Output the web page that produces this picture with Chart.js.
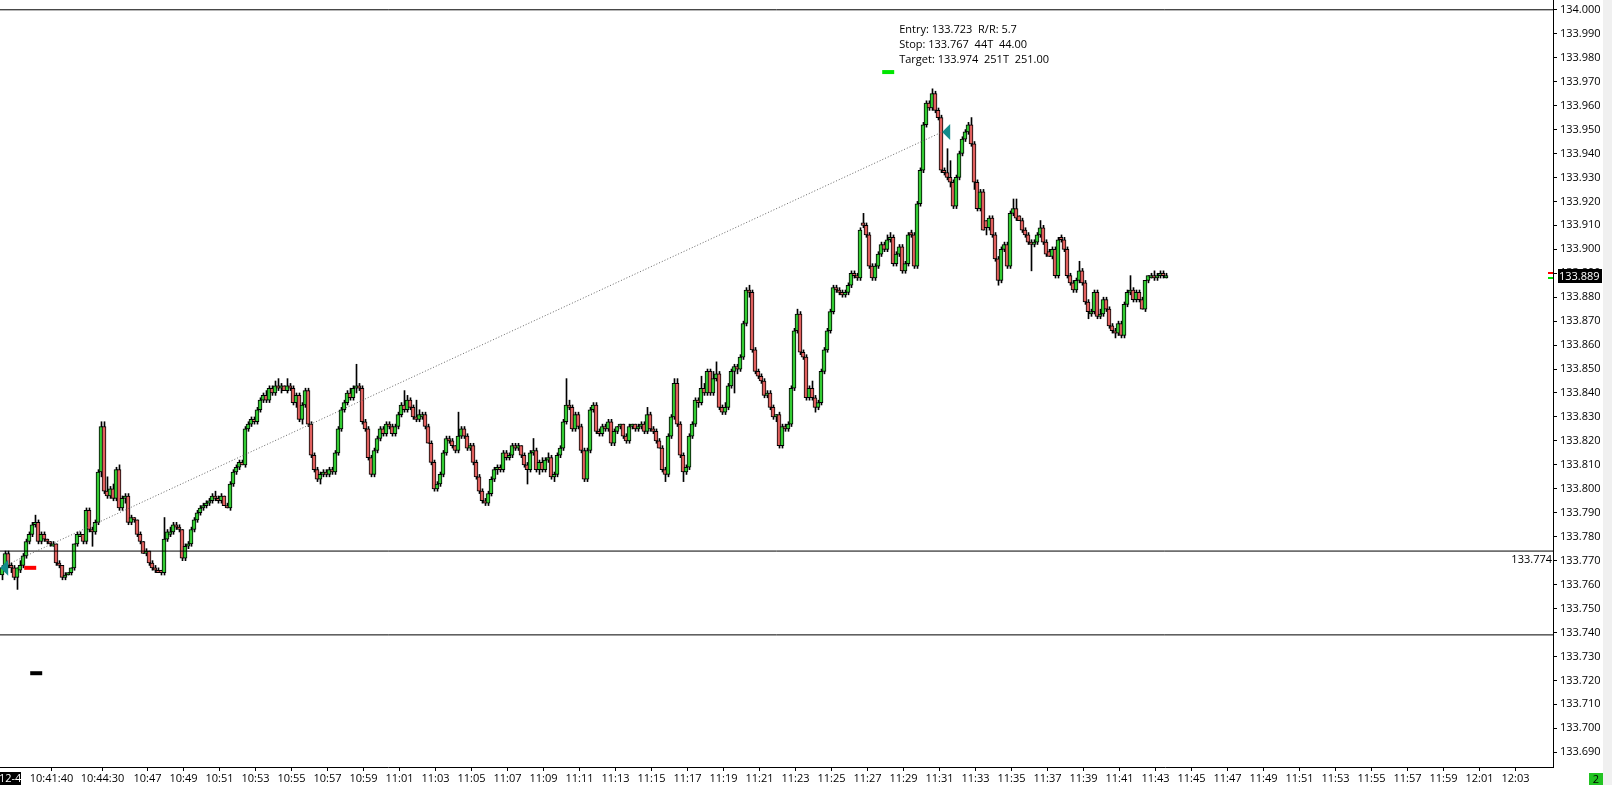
<!DOCTYPE html>
<html><head><meta charset="utf-8">
<script src="https://cdn.jsdelivr.net/npm/chart.js@4.4.1/dist/chart.umd.min.js"></script>
<style>html,body{margin:0;padding:0;background:#fff;overflow:hidden}canvas{display:block}</style>
</head><body>
<canvas id="c" width="1612" height="785"></canvas>
<script>
// 10-second bars starting 10:38:55
const BAR_START = '10:38:55';
const BAR_SECONDS = 10;

const opens = [
133.764,133.768,133.773,133.768,133.767,133.763,133.766,133.768,133.772,133.778,
133.781,133.785,133.786,133.778,133.781,133.779,133.778,133.776,133.777,133.769,
133.768,133.763,133.764,133.765,133.767,133.777,133.780,133.781,133.778,133.791,
133.783,133.782,133.786,133.807,133.826,133.799,133.797,133.800,133.796,133.808,
133.792,133.796,133.797,133.786,133.788,133.787,133.781,133.778,133.773,133.774,
133.769,133.767,133.766,133.766,133.765,133.779,133.781,133.782,133.785,133.784,
133.783,133.771,133.776,133.777,133.783,133.787,133.790,133.792,133.793,133.794,
133.795,133.797,133.796,133.795,133.797,133.793,133.792,133.802,133.807,133.809,
133.811,133.810,133.825,133.827,133.829,133.828,133.833,133.837,133.839,133.837,
133.842,133.840,133.843,133.842,133.843,133.841,133.843,133.842,133.836,133.839,
133.829,133.835,133.841,133.827,133.814,133.808,133.804,133.806,133.807,133.806,
133.808,133.807,133.815,133.825,133.833,133.836,133.840,133.838,133.842,133.843,
133.842,133.828,133.825,133.813,133.806,133.816,133.821,133.825,133.823,133.827,
133.826,133.823,133.826,133.831,133.835,133.833,133.837,133.834,133.830,133.829,
133.830,133.831,133.826,133.819,133.811,133.800,133.802,133.806,133.815,133.821,
133.820,133.818,133.816,133.822,133.825,133.822,133.817,133.818,133.811,133.805,
133.799,133.795,133.794,133.798,133.804,133.808,133.809,133.808,133.815,133.813,
133.814,133.818,133.817,133.818,133.814,133.810,133.808,133.815,133.816,133.808,
133.811,133.808,133.812,133.813,133.805,133.806,133.814,133.817,133.828,133.835,
133.834,133.825,133.831,133.826,133.816,133.804,133.816,133.833,133.835,133.824,
133.823,133.826,133.825,133.828,133.819,133.824,133.826,133.827,133.822,133.820,
133.826,133.827,133.825,133.826,133.827,133.824,133.831,133.825,133.824,133.820,
133.817,133.808,133.806,133.822,133.830,133.844,133.827,133.814,133.807,133.809,
133.822,133.827,133.837,133.836,133.842,133.840,133.849,133.840,133.846,133.848,
133.834,133.832,133.834,133.843,133.849,133.851,133.850,133.855,133.869,133.883,
133.882,133.858,133.849,133.847,133.845,133.839,133.840,133.834,133.830,133.831,
133.818,133.826,133.825,133.827,133.842,133.866,133.873,133.857,133.855,133.838,
133.842,133.838,133.834,133.836,133.849,133.858,133.866,133.874,133.884,133.883,
133.882,133.881,133.882,133.885,133.890,133.889,133.888,133.911,133.910,133.906,
133.893,133.888,133.893,133.898,133.902,133.900,133.904,133.905,133.894,133.898,
133.901,133.891,133.894,133.907,133.906,133.893,133.919,133.933,133.952,133.961,
133.959,133.965,133.958,133.955,133.933,133.932,133.930,133.928,133.918,133.930,
133.940,133.946,133.949,133.952,133.944,133.928,133.917,133.924,133.912,133.909,
133.913,133.906,133.896,133.887,133.900,133.902,133.893,133.915,133.917,133.914,
133.912,133.908,133.906,133.903,133.902,133.903,133.906,133.909,133.903,133.899,
133.897,133.900,133.889,133.905,133.904,133.900,133.889,133.886,133.883,133.887,
133.891,133.886,133.878,133.873,133.874,133.882,133.872,133.873,133.879,133.875,
133.868,133.866,133.865,133.869,133.864,133.877,133.882,133.883,133.879,133.882,
133.879,133.875,133.887,133.888,133.889,133.888,133.889,133.890,133.888
];
const highs = [
133.768,133.774,133.774,133.769,133.768,133.767,133.770,133.773,133.779,133.782,
133.786,133.789,133.787,133.782,133.782,133.779,133.778,133.778,133.777,133.770,
133.768,133.765,133.765,133.767,133.777,133.782,133.782,133.781,133.792,133.792,
133.784,133.787,133.808,133.828,133.828,133.805,133.801,133.802,133.809,133.810,
133.797,133.798,133.798,133.789,133.788,133.787,133.782,133.778,133.775,133.774,
133.770,133.768,133.767,133.766,133.788,133.783,133.784,133.786,133.786,133.785,
133.783,133.777,133.778,133.784,133.788,133.791,133.793,133.794,133.795,133.796,
133.798,133.799,133.797,133.798,133.797,133.794,133.803,133.808,133.810,133.812,
133.812,133.826,133.828,133.830,133.830,133.834,133.838,133.840,133.841,133.843,
133.843,133.845,133.846,133.844,133.843,133.846,133.844,133.843,133.840,133.840,
133.836,133.842,133.842,133.828,133.815,133.809,133.807,133.808,133.808,133.809,
133.809,133.816,133.826,133.834,133.837,133.841,133.842,133.843,133.852,133.844,
133.843,133.829,133.826,133.814,133.817,133.822,133.826,133.826,133.828,133.828,
133.827,133.827,133.832,133.836,133.841,133.839,133.838,133.835,133.837,133.833,
133.832,133.832,133.827,133.820,133.812,133.803,133.807,133.816,133.822,133.822,
133.821,133.818,133.832,133.826,133.826,133.823,133.819,133.819,133.812,133.806,
133.800,133.796,133.799,133.805,133.809,133.810,133.810,133.816,133.816,133.815,
133.819,133.819,133.819,133.818,133.815,133.811,133.816,133.821,133.817,133.812,
133.813,133.813,133.815,133.814,133.807,133.815,133.818,133.829,133.846,133.837,
133.835,133.832,133.832,133.827,133.817,133.817,133.834,133.836,133.836,133.825,
133.827,133.827,133.829,133.829,133.825,133.826,133.827,133.827,133.823,133.827,
133.827,133.827,133.827,133.828,133.828,133.834,133.832,133.826,133.825,133.821,
133.818,133.809,133.823,133.831,133.846,133.846,133.828,133.815,133.810,133.823,
133.828,133.838,133.838,133.847,133.844,133.850,133.850,133.849,133.853,133.849,
133.835,133.836,133.844,133.850,133.852,133.852,133.856,133.870,133.884,133.885,
133.883,133.859,133.850,133.848,133.846,133.841,133.841,133.835,133.831,133.832,
133.827,133.827,133.828,133.843,133.867,133.875,133.874,133.858,133.856,133.843,
133.845,133.839,133.837,133.850,133.859,133.867,133.875,133.885,133.885,133.884,
133.883,133.883,133.886,133.891,133.891,133.890,133.909,133.915,133.911,133.907,
133.894,133.894,133.899,133.903,133.903,133.906,133.907,133.906,133.899,133.902,
133.902,133.895,133.907,133.908,133.907,133.920,133.934,133.953,133.962,133.962,
133.967,133.966,133.959,133.956,133.934,133.942,133.937,133.929,133.931,133.941,
133.947,133.950,133.953,133.955,133.945,133.929,133.925,133.925,133.912,133.914,
133.914,133.907,133.897,133.901,133.903,133.903,133.916,133.921,133.921,133.914,
133.913,133.909,133.907,133.904,133.904,133.907,133.912,133.910,133.904,133.900,
133.901,133.901,133.905,133.906,133.905,133.901,133.890,133.887,133.888,133.895,
133.892,133.887,133.879,133.875,133.883,133.883,133.875,133.880,133.880,133.876,
133.869,133.867,133.870,133.870,133.878,133.883,133.889,133.884,133.883,133.883,
133.880,133.887,133.889,133.890,133.891,133.890,133.891,133.891,133.890
];
const lows = [
133.762,133.767,133.767,133.765,133.762,133.758,133.765,133.767,133.771,133.777,
133.780,133.784,133.777,133.777,133.778,133.777,133.776,133.776,133.768,133.767,
133.762,133.762,133.764,133.764,133.766,133.776,133.780,133.777,133.777,133.782,
133.776,133.781,133.785,133.805,133.798,133.796,133.796,133.795,133.795,133.791,
133.791,133.794,133.785,133.785,133.786,133.780,133.777,133.773,133.772,133.768,
133.766,133.765,133.765,133.764,133.764,133.778,133.780,133.781,133.783,133.782,
133.770,133.770,133.775,133.776,133.782,133.786,133.789,133.791,133.792,133.793,
133.794,133.795,133.794,133.794,133.793,133.792,133.791,133.801,133.806,133.808,
133.810,133.809,133.824,133.826,133.827,133.827,133.832,133.836,133.836,133.836,
133.839,133.839,133.841,133.840,133.841,133.840,133.841,133.835,133.834,133.828,
133.827,133.834,133.826,133.813,133.807,133.803,133.802,133.805,133.805,133.805,
133.806,133.806,133.814,133.824,133.832,133.835,133.837,133.837,133.840,133.841,
133.827,133.824,133.812,133.805,133.805,133.815,133.820,133.822,133.822,133.825,
133.822,133.822,133.825,133.830,133.832,133.832,133.833,133.829,133.828,133.828,
133.829,133.825,133.819,133.810,133.799,133.799,133.801,133.805,133.814,133.819,
133.817,133.815,133.815,133.821,133.821,133.816,133.816,133.810,133.804,133.798,
133.794,133.793,133.793,133.797,133.803,133.806,133.807,133.807,133.812,133.812,
133.813,133.816,133.816,133.813,133.809,133.802,133.807,133.814,133.807,133.806,
133.807,133.807,133.811,133.804,133.803,133.805,133.813,133.816,133.827,133.833,
133.824,133.824,133.825,133.815,133.803,133.803,133.815,133.832,133.823,133.822,
133.822,133.824,133.824,133.818,133.818,133.823,133.825,133.821,133.819,133.819,
133.825,133.824,133.824,133.825,133.823,133.823,133.824,133.823,133.819,133.817,
133.807,133.803,133.805,133.821,133.829,133.826,133.813,133.803,133.806,133.808,
133.821,133.826,133.834,133.835,133.839,133.839,133.839,133.839,133.845,133.833,
133.831,133.831,133.833,133.842,133.840,133.848,133.849,133.854,133.868,133.880,
133.857,133.848,133.846,133.844,133.838,133.838,133.833,133.829,133.828,133.817,
133.817,133.824,133.824,133.826,133.841,133.865,133.856,133.854,133.837,133.837,
133.837,133.832,133.833,133.835,133.848,133.857,133.865,133.873,133.882,133.881,
133.880,133.880,133.881,133.884,133.888,133.887,133.887,133.909,133.905,133.892,
133.887,133.887,133.892,133.897,133.899,133.899,133.903,133.893,133.893,133.897,
133.890,133.890,133.893,133.905,133.892,133.892,133.918,133.932,133.951,133.958,
133.958,133.957,133.954,133.932,133.931,133.929,133.926,133.917,133.917,133.929,
133.939,133.945,133.948,133.943,133.925,133.916,133.916,133.908,133.906,133.908,
133.905,133.895,133.885,133.886,133.899,133.892,133.892,133.914,133.912,133.912,
133.907,133.905,133.902,133.891,133.901,133.902,133.905,133.902,133.897,133.897,
133.896,133.888,133.888,133.903,133.899,133.888,133.885,133.882,133.882,133.886,
133.885,133.877,133.871,133.872,133.873,133.871,133.871,133.872,133.874,133.867,
133.865,133.863,133.864,133.863,133.863,133.876,133.881,133.878,133.878,133.878,
133.875,133.874,133.886,133.888,133.887,133.887,133.888,133.888,133.888
];
const closes = [
133.767,133.773,133.768,133.767,133.763,133.767,133.768,133.772,133.778,133.781,
133.785,133.786,133.778,133.781,133.779,133.778,133.777,133.777,133.769,133.768,
133.763,133.764,133.765,133.767,133.777,133.781,133.781,133.778,133.791,133.783,
133.782,133.786,133.807,133.826,133.799,133.797,133.800,133.796,133.808,133.792,
133.796,133.797,133.786,133.788,133.787,133.781,133.778,133.773,133.774,133.769,
133.767,133.766,133.765,133.765,133.779,133.782,133.782,133.785,133.784,133.783,
133.771,133.776,133.777,133.783,133.787,133.790,133.792,133.793,133.794,133.795,
133.797,133.796,133.795,133.797,133.793,133.792,133.802,133.807,133.809,133.811,
133.810,133.825,133.827,133.829,133.828,133.833,133.837,133.839,133.837,133.842,
133.840,133.843,133.842,133.843,133.841,133.843,133.842,133.836,133.839,133.829,
133.835,133.841,133.827,133.814,133.808,133.804,133.806,133.807,133.806,133.808,
133.807,133.815,133.825,133.833,133.836,133.840,133.838,133.842,133.843,133.842,
133.828,133.825,133.813,133.806,133.816,133.821,133.825,133.823,133.827,133.826,
133.823,133.826,133.831,133.835,133.833,133.837,133.834,133.830,133.829,133.831,
133.831,133.826,133.819,133.811,133.800,133.802,133.806,133.815,133.821,133.820,
133.818,133.816,133.822,133.825,133.822,133.817,133.818,133.811,133.805,133.799,
133.795,133.794,133.798,133.804,133.808,133.809,133.808,133.815,133.813,133.814,
133.818,133.817,133.818,133.814,133.810,133.808,133.815,133.816,133.808,133.811,
133.808,133.812,133.813,133.805,133.806,133.814,133.817,133.828,133.835,133.834,
133.825,133.831,133.826,133.816,133.804,133.816,133.833,133.835,133.824,133.823,
133.826,133.825,133.828,133.819,133.824,133.826,133.827,133.822,133.820,133.826,
133.827,133.825,133.826,133.827,133.824,133.831,133.825,133.824,133.820,133.817,
133.808,133.806,133.822,133.830,133.844,133.827,133.814,133.807,133.809,133.822,
133.827,133.837,133.836,133.842,133.840,133.849,133.840,133.846,133.848,133.834,
133.832,133.834,133.843,133.849,133.851,133.850,133.855,133.869,133.883,133.882,
133.858,133.849,133.847,133.845,133.839,133.840,133.834,133.830,133.831,133.818,
133.826,133.825,133.827,133.842,133.866,133.873,133.857,133.855,133.838,133.842,
133.838,133.834,133.836,133.849,133.858,133.866,133.874,133.884,133.883,133.882,
133.881,133.882,133.885,133.890,133.889,133.888,133.908,133.910,133.906,133.893,
133.888,133.893,133.898,133.902,133.900,133.904,133.905,133.894,133.898,133.901,
133.891,133.894,133.906,133.906,133.893,133.919,133.933,133.952,133.961,133.959,
133.965,133.958,133.955,133.933,133.932,133.930,133.928,133.918,133.930,133.940,
133.946,133.949,133.952,133.944,133.928,133.917,133.924,133.908,133.909,133.913,
133.906,133.896,133.887,133.900,133.902,133.893,133.915,133.917,133.913,133.912,
133.908,133.906,133.903,133.902,133.903,133.906,133.909,133.903,133.898,133.897,
133.900,133.889,133.904,133.904,133.900,133.889,133.886,133.883,133.887,133.891,
133.886,133.878,133.874,133.874,133.882,133.872,133.873,133.879,133.875,133.868,
133.866,133.865,133.869,133.864,133.877,133.882,133.883,133.879,133.882,133.879,
133.875,133.887,133.889,133.889,133.888,133.889,133.890,133.889,133.889
];

const yTickLabels = ['133.690','133.700','133.710','133.720','133.730','133.740','133.750','133.760','133.770','133.780',
'133.790','133.800','133.810','133.820','133.830','133.840','133.850','133.860','133.870','133.880','133.890',
'133.900','133.910','133.920','133.930','133.940','133.950','133.960','133.970','133.980','133.990','134.000'];
const xTickLabels = ['10:41:40','10:44:30','10:47','10:49','10:51','10:53','10:55','10:57','10:59','11:01','11:03',
'11:05','11:07','11:09','11:11','11:13','11:15','11:17','11:19','11:21','11:23','11:25','11:27','11:29','11:31',
'11:33','11:35','11:37','11:39','11:41','11:43','11:45','11:47','11:49','11:51','11:53','11:55','11:57','11:59','12:01','12:03'];
const dateLabel = '12-4';

const lastPrice = 133.889, askPrice = 133.890, bidPrice = 133.888;
const levelPrice = 133.774, lowerLinePrice = 133.739, topLinePrice = 134.000;
const entryPrice = 133.723, stopPrice = 133.767, targetPrice = 133.974;
const stopMarkTimes = ['10:40:09','10:40:49'];
const entryMarkTimes = ['10:40:29','10:41:09'];
const targetMarkTimes = ['11:27:49','11:28:29'];
const execTimes = ['10:38:49','11:31:09'];
const execPrices = [133.767, 133.949];
const infoLines = ['Entry: 133.723  R/R: 5.7','Stop: 133.767  44T  44.00','Target: 133.974  251T  251.00'];

function toSec(s){const p=s.split(':').map(Number);return p[0]*3600+p[1]*60+(p[2]||0);}
const X_MIN = toSec('10:38:48') + 1/3;   // visible window start
const X_MAX = toSec('12:05:05');         // visible window end
const Y_MIN = 133.683841, Y_MAX = 134.00409;

const n = Math.min(opens.length, highs.length, lows.length, closes.length);
const t0 = toSec(BAR_START);
const times = []; for (let i=0;i<n;i++) times.push(t0 + i*BAR_SECONDS);
const UP = '#33cc33', DOWN = '#e0605e';

const bodies = times.map((t,i)=>({x:t, y:[opens[i], closes[i]]}));
const wicks = times.map((t,i)=>({x:t, y:[lows[i], highs[i]]}));
const bodyColors = times.map((t,i)=> closes[i] >= opens[i] ? UP : DOWN);

function hline(price, color, width){
  return {type:'line', data:[{x:X_MIN,y:price},{x:X_MAX,y:price}], borderColor:color, borderWidth:width,
    pointRadius:0, order:0, fill:false};
}
function seg(tt, price, color, width){
  return {type:'line', data:[{x:toSec(tt[0]),y:price},{x:toSec(tt[1]),y:price}], borderColor:color, borderWidth:width,
    pointRadius:0, order:0, fill:false, borderCapStyle:'butt'};
}

const FONT = "'Open Sans','Noto Sans',sans-serif";
Chart.defaults.font.family = FONT;
Chart.defaults.font.size = 11;
Chart.defaults.color = '#000';

const decor = {
  id:'decor',
  beforeDraw(chart){
    const c = chart.ctx; c.save(); c.fillStyle='#fff'; c.fillRect(0,0,chart.width,chart.height); c.restore();
  },
  afterDraw(chart){
    const c = chart.ctx, xs = chart.scales.x, ys = chart.scales.y, ca = chart.chartArea;
    c.save();
    // execution triangles
    c.fillStyle = '#138b8b';
    execTimes.forEach((t,i)=>{
      const px = xs.getPixelForValue(toSec(t)), py = ys.getPixelForValue(execPrices[i]);
      c.beginPath(); c.moveTo(px, py); c.lineTo(px+8, py-8); c.lineTo(px+8, py+8); c.closePath(); c.fill();
    });
    // info text near target marker
    const tx = xs.getPixelForValue(toSec(targetMarkTimes[1])) + 5;
    const ty = ys.getPixelForValue(targetPrice);
    c.font = '11px ' + FONT; c.fillStyle = '#000'; c.textAlign='left'; c.textBaseline='alphabetic';
    infoLines.forEach((s,i)=> c.fillText(s, tx, ty - 39.5 + i*15.2));
    // level label
    const ly = ys.getPixelForValue(levelPrice);
    c.textAlign='right'; c.fillText(levelPrice.toFixed(3), ca.right-1, ly+12);
    // bid / ask marks at axis
    c.fillStyle = '#ff0000'; c.fillRect(ca.right-5, Math.round(ys.getPixelForValue(askPrice))-1, 5, 2);
    c.fillStyle = '#00dd00'; c.fillRect(ca.right-5, Math.round(ys.getPixelForValue(bidPrice))-1, 5, 2);
    // last price box
    const py = Math.round(ys.getPixelForValue(lastPrice));
    c.fillStyle = '#000'; c.fillRect(ca.right+5, py-7, 44, 14);
    c.fillStyle = '#fff'; c.textAlign='left'; c.textBaseline='middle';
    c.fillText(lastPrice.toFixed(3), ca.right+6, py+0.5);
    // date label
    c.fillStyle = '#000'; c.fillRect(0, ca.bottom+5, 21, 13);
    c.fillStyle = '#fff'; c.textAlign='left'; c.fillText(dateLabel, -1, ca.bottom+11.5);
    // right strip & status box
    c.fillStyle = '#f0f0f0'; c.fillRect(1603, 0, 9, chart.height);
    c.fillStyle = '#22c322'; c.fillRect(1589, chart.height-12, 14, 12);
    c.fillStyle = '#000'; c.textAlign='center'; c.fillText('2', 1596, chart.height-5.5);
    c.restore();
  }
};

new Chart(document.getElementById('c'), {
  type:'bar',
  data:{ datasets:[
    {type:'line', data:[{x:toSec(execTimes[0]),y:execPrices[0]},{x:toSec(execTimes[1]),y:execPrices[1]}],
      borderColor:'#666666', borderWidth:1, borderDash:[1,2], pointRadius:0, order:0, fill:false},
    hline(topLinePrice,'#000',1),
    hline(levelPrice,'#000',1),
    hline(lowerLinePrice,'#000',1),
    seg(stopMarkTimes, stopPrice, '#ff0000', 4),
    seg(entryMarkTimes, entryPrice, '#000000', 4),
    seg(targetMarkTimes, targetPrice, '#00e600', 4),
    {type:'bar', data:bodies, backgroundColor:bodyColors, borderColor:'#000', borderWidth:1, borderSkipped:false,
      barThickness:4, grouped:false, minBarLength:2, order:2, xAxisID:'x'},
    {type:'bar', data:wicks, backgroundColor:'#000', borderWidth:0, barThickness:1, grouped:false,
      minBarLength:1, order:3, xAxisID:'xw'}
  ]},
  options:{
    responsive:false, devicePixelRatio:1, animation:false,
    layout:{padding:0},
    plugins:{legend:{display:false}, tooltip:{enabled:false}},
    events:[],
    scales:{
      x:{type:'linear', position:'bottom', min:X_MIN, max:X_MAX, offset:false,
        grid:{display:true, drawOnChartArea:false, drawTicks:true, tickLength:4, color:'#000', offset:false},
        border:{display:true, color:'#000', width:1},
        afterBuildTicks:(s)=>{ s.ticks = xTickLabels.map(l=>({value:toSec(l)})); },
        afterFit:(s)=>{ s.height = 18; s.paddingLeft = 0; s.paddingRight = 0; },
        ticks:{autoSkip:false, maxRotation:0, minRotation:0, padding:1, color:'#000',
          callback:(v,i)=> xTickLabels[i]}
      },
      xw:{type:'linear', axis:'x', position:'bottom', display:false, offset:false,
        min:X_MIN - 5/3, max:X_MAX - 5/3},
      y:{type:'linear', position:'right', min:Y_MIN, max:Y_MAX, beginAtZero:false,
        grid:{display:true, drawOnChartArea:false, drawTicks:true, tickLength:4, color:'#000'},
        border:{display:true, color:'#000', width:1},
        afterBuildTicks:(s)=>{ s.ticks = yTickLabels.map(l=>({value:parseFloat(l)})); },
        afterFit:(s)=>{ s.width = 59; s.paddingTop = 0; s.paddingBottom = 0; },
        ticks:{autoSkip:false, padding:3, color:'#000', callback:(v,i)=> yTickLabels[i]}
      }
    }
  },
  plugins:[decor]
});
</script>
</body></html>
